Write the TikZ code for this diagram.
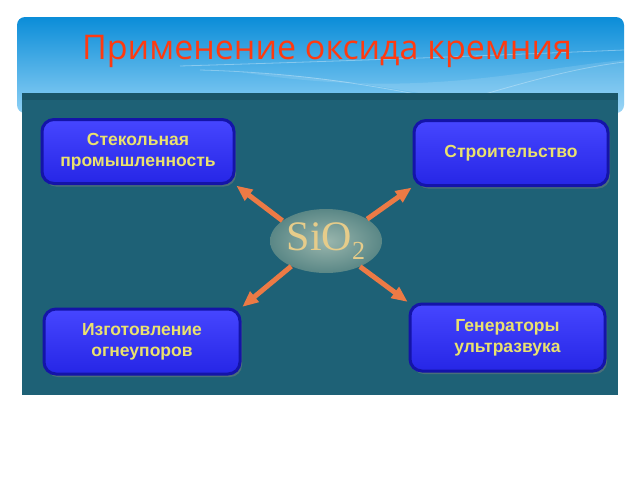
\documentclass[tikz,border=0pt]{standalone}
\usepackage{fontspec}
\setmainfont{Liberation Serif}
\newfontfamily\titlefont{Open Sans}
\newfontfamily\boxfont{Liberation Sans}
\usetikzlibrary{shapes.geometric,arrows.meta,shadows}
\definecolor{bantop}{HTML}{0B8DD8}
\definecolor{banbot}{HTML}{8DD0F5}
\definecolor{panel}{HTML}{1E6176}
\definecolor{boxtop}{HTML}{4646FF}
\definecolor{boxbot}{HTML}{2626E6}
\definecolor{boxedge}{HTML}{1414A8}
\definecolor{boxtext}{HTML}{EAE26E}
\definecolor{arrcol}{HTML}{EC7A45}
\definecolor{titlecol}{HTML}{FF3A10}
\definecolor{elin}{HTML}{9AB6AD}
\definecolor{elout}{HTML}{5A8786}
\definecolor{sitext}{HTML}{E6CC8A}
\tikzset{
  appbox/.style={rounded corners=12pt, top color=boxtop, bottom color=boxbot,
    draw=boxedge, line width=3pt, text=boxtext, align=center,
    font=\boxfont\bfseries\fontsize{17.5}{21}\selectfont,
    drop shadow={shadow xshift=2pt, shadow yshift=-3pt, opacity=0.45}},
  arr/.style={draw=arrcol, line width=5pt, -{Triangle[width=13pt,length=16pt]}, shorten >=1pt}
}
\begin{document}
\begin{tikzpicture}[x=1pt,y=-1pt]
\useasboundingbox (0,0) rectangle (640,480);
\fill[white] (0,0) rectangle (640,480);
% banner
\shade[top color=bantop, bottom color=banbot, rounded corners=8pt] (17,17) rectangle (624,113);
\begin{scope}
\clip[rounded corners=8pt] (17,17) rectangle (624,113);
\draw[white, opacity=0.35, line width=0.8pt] (180,66) .. controls (380,60) and (500,55) .. (624,50);
\draw[white, opacity=0.3, line width=0.8pt] (200,70) .. controls (380,75) and (450,110) .. (560,113);
\fill[white, opacity=0.12] (240,72) .. controls (400,80) and (460,110) .. (600,113) -- (624,113) -- (624,60) .. controls (520,70) and (420,100) .. (240,72);
\draw[white, opacity=0.3, line width=0.8pt] (420,113) .. controls (500,90) and (560,70) .. (624,62);
\end{scope}
\node[text=titlecol, font=\titlefont\fontsize{34}{40}\selectfont] (title) at (327,51) {Применение оксида кремния};
% panel
\fill[panel] (22,93) rectangle (618,395);
\fill[black, opacity=0.12] (22,93) rectangle (618,100);
% boxes
\node[appbox, minimum width=192pt, minimum height=64pt] (tl) at (138,151.5) {Стекольная\\промышленность};
\node[appbox, minimum width=194pt, minimum height=65pt] (tr) at (511,153) {Строительство};
\node[appbox, minimum width=196pt, minimum height=65pt] (bl) at (142,341.5) {Изготовление\\огнеупоров};
\node[appbox, minimum width=195pt, minimum height=67pt] (br) at (507.5,337.5) {Генераторы\\ультразвука};
% center
\node[ellipse, inner color=elin, outer color=elout, minimum width=112pt, minimum height=64pt, inner sep=0pt] (sio) at (326,241) {};
\node[text=sitext, font=\fontsize{42}{42}\selectfont] (sitxt) at (326,241) {SiO\raisebox{-9pt}{\fontsize{26}{26}\selectfont 2}};
% arrows
\draw[arr] (sio.155) -- (tl.south east);
\draw[arr] (sio.28) -- (tr.south west);
\draw[arr] (sio.216) -- (bl.north east);
\draw[arr] (sio.-37) -- (br.north west);
\end{tikzpicture}
\end{document}
